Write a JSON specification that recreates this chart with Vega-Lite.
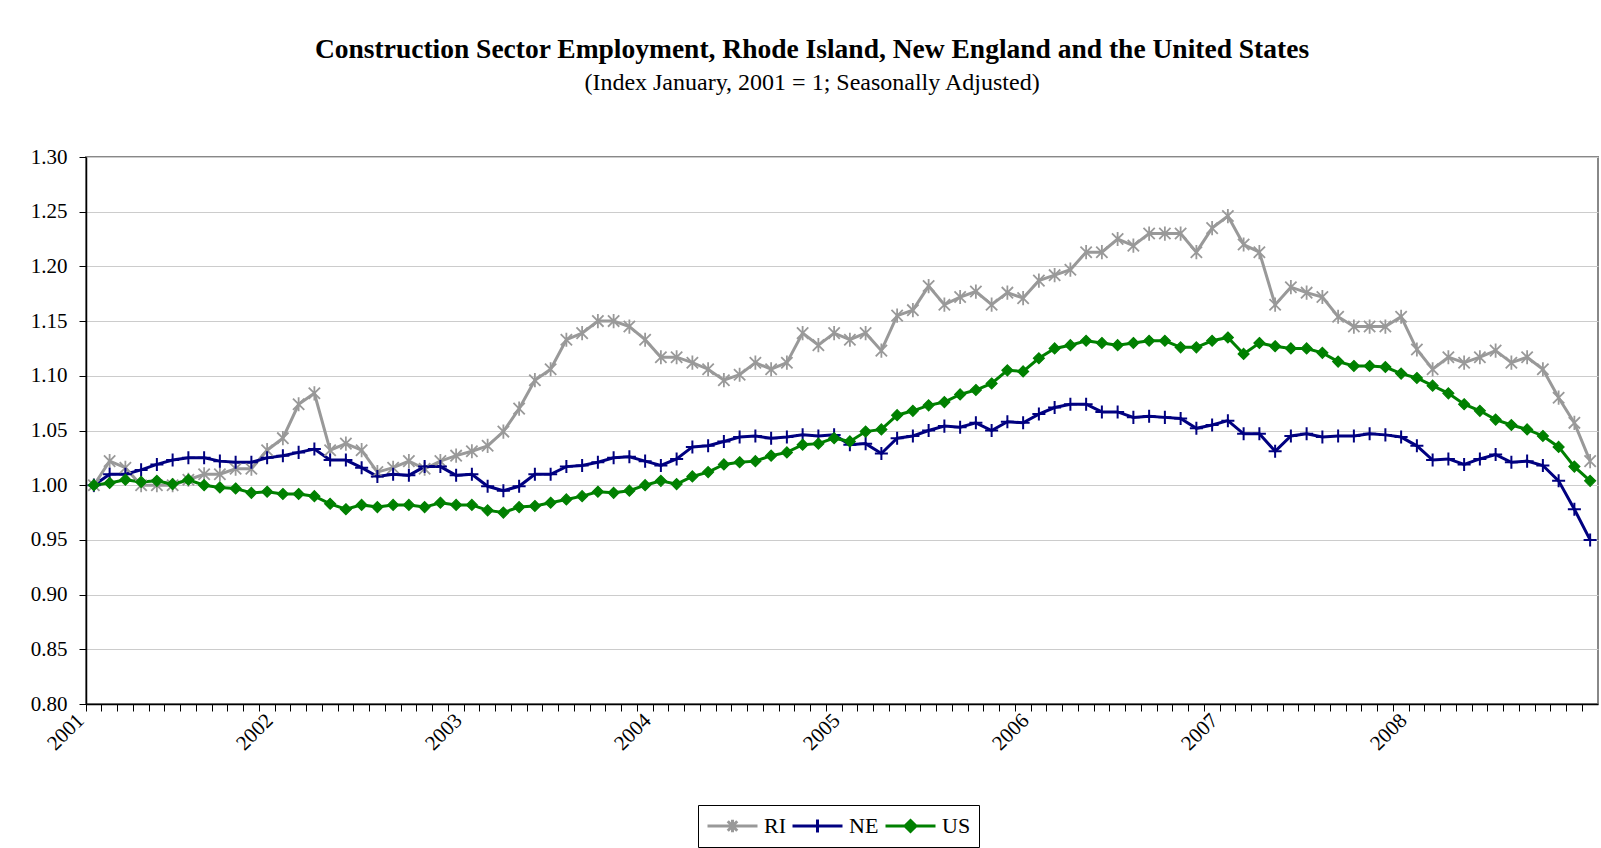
{
  "$schema": "https://vega.github.io/schema/vega-lite/v6.json",
  "width": 1512,
  "height": 547,
  "autosize": {"type": "none"},
  "padding": {"left": 86, "top": 157, "right": 3, "bottom": 144},
  "background": "white",
  "config": {
    "view": {"stroke": "#888888", "strokeWidth": 2},
    "font": "Liberation Serif"
  },
  "title": {
    "text": "Construction Sector Employment, Rhode Island, New England and the United States",
    "subtitle": "(Index January, 2001 = 1; Seasonally Adjusted)",
    "font": "Liberation Serif",
    "fontSize": 27.5,
    "fontWeight": "bold",
    "color": "#000000",
    "subtitleFont": "Liberation Serif",
    "subtitleFontSize": 24,
    "subtitleColor": "#000000",
    "subtitlePadding": 8,
    "anchor": "middle",
    "frame": "group",
    "dx": -30,
    "offset": 51
  },
  "data": {"values": [
    {"m":"2001-01","s":"RI","v":1.000},{"m":"2001-02","s":"RI","v":1.022},{"m":"2001-03","s":"RI","v":1.016},{"m":"2001-04","s":"RI","v":1.000},{"m":"2001-05","s":"RI","v":1.000},{"m":"2001-06","s":"RI","v":1.000},{"m":"2001-07","s":"RI","v":1.005},{"m":"2001-08","s":"RI","v":1.010},{"m":"2001-09","s":"RI","v":1.010},{"m":"2001-10","s":"RI","v":1.015},{"m":"2001-11","s":"RI","v":1.015},{"m":"2001-12","s":"RI","v":1.032},
    {"m":"2002-01","s":"RI","v":1.043},{"m":"2002-02","s":"RI","v":1.074},{"m":"2002-03","s":"RI","v":1.084},{"m":"2002-04","s":"RI","v":1.032},{"m":"2002-05","s":"RI","v":1.038},{"m":"2002-06","s":"RI","v":1.032},{"m":"2002-07","s":"RI","v":1.012},{"m":"2002-08","s":"RI","v":1.016},{"m":"2002-09","s":"RI","v":1.022},{"m":"2002-10","s":"RI","v":1.015},{"m":"2002-11","s":"RI","v":1.022},{"m":"2002-12","s":"RI","v":1.027},
    {"m":"2003-01","s":"RI","v":1.031},{"m":"2003-02","s":"RI","v":1.036},{"m":"2003-03","s":"RI","v":1.049},{"m":"2003-04","s":"RI","v":1.070},{"m":"2003-05","s":"RI","v":1.096},{"m":"2003-06","s":"RI","v":1.106},{"m":"2003-07","s":"RI","v":1.133},{"m":"2003-08","s":"RI","v":1.139},{"m":"2003-09","s":"RI","v":1.150},{"m":"2003-10","s":"RI","v":1.150},{"m":"2003-11","s":"RI","v":1.145},{"m":"2003-12","s":"RI","v":1.133},
    {"m":"2004-01","s":"RI","v":1.117},{"m":"2004-02","s":"RI","v":1.117},{"m":"2004-03","s":"RI","v":1.112},{"m":"2004-04","s":"RI","v":1.106},{"m":"2004-05","s":"RI","v":1.096},{"m":"2004-06","s":"RI","v":1.101},{"m":"2004-07","s":"RI","v":1.112},{"m":"2004-08","s":"RI","v":1.106},{"m":"2004-09","s":"RI","v":1.112},{"m":"2004-10","s":"RI","v":1.139},{"m":"2004-11","s":"RI","v":1.128},{"m":"2004-12","s":"RI","v":1.139},
    {"m":"2005-01","s":"RI","v":1.133},{"m":"2005-02","s":"RI","v":1.139},{"m":"2005-03","s":"RI","v":1.123},{"m":"2005-04","s":"RI","v":1.155},{"m":"2005-05","s":"RI","v":1.160},{"m":"2005-06","s":"RI","v":1.182},{"m":"2005-07","s":"RI","v":1.165},{"m":"2005-08","s":"RI","v":1.172},{"m":"2005-09","s":"RI","v":1.177},{"m":"2005-10","s":"RI","v":1.165},{"m":"2005-11","s":"RI","v":1.176},{"m":"2005-12","s":"RI","v":1.171},
    {"m":"2006-01","s":"RI","v":1.187},{"m":"2006-02","s":"RI","v":1.192},{"m":"2006-03","s":"RI","v":1.197},{"m":"2006-04","s":"RI","v":1.213},{"m":"2006-05","s":"RI","v":1.213},{"m":"2006-06","s":"RI","v":1.225},{"m":"2006-07","s":"RI","v":1.219},{"m":"2006-08","s":"RI","v":1.230},{"m":"2006-09","s":"RI","v":1.230},{"m":"2006-10","s":"RI","v":1.230},{"m":"2006-11","s":"RI","v":1.213},{"m":"2006-12","s":"RI","v":1.235},
    {"m":"2007-01","s":"RI","v":1.246},{"m":"2007-02","s":"RI","v":1.220},{"m":"2007-03","s":"RI","v":1.213},{"m":"2007-04","s":"RI","v":1.165},{"m":"2007-05","s":"RI","v":1.181},{"m":"2007-06","s":"RI","v":1.176},{"m":"2007-07","s":"RI","v":1.172},{"m":"2007-08","s":"RI","v":1.154},{"m":"2007-09","s":"RI","v":1.145},{"m":"2007-10","s":"RI","v":1.145},{"m":"2007-11","s":"RI","v":1.145},{"m":"2007-12","s":"RI","v":1.154},
    {"m":"2008-01","s":"RI","v":1.124},{"m":"2008-02","s":"RI","v":1.106},{"m":"2008-03","s":"RI","v":1.117},{"m":"2008-04","s":"RI","v":1.112},{"m":"2008-05","s":"RI","v":1.117},{"m":"2008-06","s":"RI","v":1.123},{"m":"2008-07","s":"RI","v":1.112},{"m":"2008-08","s":"RI","v":1.117},{"m":"2008-09","s":"RI","v":1.106},{"m":"2008-10","s":"RI","v":1.080},{"m":"2008-11","s":"RI","v":1.057},{"m":"2008-12","s":"RI","v":1.022},

    {"m":"2001-01","s":"NE","v":1.000},{"m":"2001-02","s":"NE","v":1.010},{"m":"2001-03","s":"NE","v":1.010},{"m":"2001-04","s":"NE","v":1.014},{"m":"2001-05","s":"NE","v":1.019},{"m":"2001-06","s":"NE","v":1.023},{"m":"2001-07","s":"NE","v":1.025},{"m":"2001-08","s":"NE","v":1.025},{"m":"2001-09","s":"NE","v":1.022},{"m":"2001-10","s":"NE","v":1.021},{"m":"2001-11","s":"NE","v":1.021},{"m":"2001-12","s":"NE","v":1.025},
    {"m":"2002-01","s":"NE","v":1.027},{"m":"2002-02","s":"NE","v":1.030},{"m":"2002-03","s":"NE","v":1.033},{"m":"2002-04","s":"NE","v":1.023},{"m":"2002-05","s":"NE","v":1.023},{"m":"2002-06","s":"NE","v":1.016},{"m":"2002-07","s":"NE","v":1.008},{"m":"2002-08","s":"NE","v":1.010},{"m":"2002-09","s":"NE","v":1.009},{"m":"2002-10","s":"NE","v":1.017},{"m":"2002-11","s":"NE","v":1.017},{"m":"2002-12","s":"NE","v":1.009},
    {"m":"2003-01","s":"NE","v":1.010},{"m":"2003-02","s":"NE","v":0.999},{"m":"2003-03","s":"NE","v":0.995},{"m":"2003-04","s":"NE","v":0.999},{"m":"2003-05","s":"NE","v":1.010},{"m":"2003-06","s":"NE","v":1.010},{"m":"2003-07","s":"NE","v":1.017},{"m":"2003-08","s":"NE","v":1.018},{"m":"2003-09","s":"NE","v":1.021},{"m":"2003-10","s":"NE","v":1.025},{"m":"2003-11","s":"NE","v":1.026},{"m":"2003-12","s":"NE","v":1.022},
    {"m":"2004-01","s":"NE","v":1.018},{"m":"2004-02","s":"NE","v":1.024},{"m":"2004-03","s":"NE","v":1.035},{"m":"2004-04","s":"NE","v":1.036},{"m":"2004-05","s":"NE","v":1.040},{"m":"2004-06","s":"NE","v":1.044},{"m":"2004-07","s":"NE","v":1.045},{"m":"2004-08","s":"NE","v":1.043},{"m":"2004-09","s":"NE","v":1.044},{"m":"2004-10","s":"NE","v":1.046},{"m":"2004-11","s":"NE","v":1.045},{"m":"2004-12","s":"NE","v":1.046},
    {"m":"2005-01","s":"NE","v":1.037},{"m":"2005-02","s":"NE","v":1.038},{"m":"2005-03","s":"NE","v":1.029},{"m":"2005-04","s":"NE","v":1.043},{"m":"2005-05","s":"NE","v":1.045},{"m":"2005-06","s":"NE","v":1.050},{"m":"2005-07","s":"NE","v":1.054},{"m":"2005-08","s":"NE","v":1.053},{"m":"2005-09","s":"NE","v":1.057},{"m":"2005-10","s":"NE","v":1.050},{"m":"2005-11","s":"NE","v":1.058},{"m":"2005-12","s":"NE","v":1.057},
    {"m":"2006-01","s":"NE","v":1.065},{"m":"2006-02","s":"NE","v":1.071},{"m":"2006-03","s":"NE","v":1.074},{"m":"2006-04","s":"NE","v":1.074},{"m":"2006-05","s":"NE","v":1.067},{"m":"2006-06","s":"NE","v":1.067},{"m":"2006-07","s":"NE","v":1.062},{"m":"2006-08","s":"NE","v":1.063},{"m":"2006-09","s":"NE","v":1.062},{"m":"2006-10","s":"NE","v":1.061},{"m":"2006-11","s":"NE","v":1.052},{"m":"2006-12","s":"NE","v":1.055},
    {"m":"2007-01","s":"NE","v":1.059},{"m":"2007-02","s":"NE","v":1.047},{"m":"2007-03","s":"NE","v":1.047},{"m":"2007-04","s":"NE","v":1.031},{"m":"2007-05","s":"NE","v":1.045},{"m":"2007-06","s":"NE","v":1.047},{"m":"2007-07","s":"NE","v":1.044},{"m":"2007-08","s":"NE","v":1.045},{"m":"2007-09","s":"NE","v":1.045},{"m":"2007-10","s":"NE","v":1.047},{"m":"2007-11","s":"NE","v":1.046},{"m":"2007-12","s":"NE","v":1.044},
    {"m":"2008-01","s":"NE","v":1.036},{"m":"2008-02","s":"NE","v":1.023},{"m":"2008-03","s":"NE","v":1.024},{"m":"2008-04","s":"NE","v":1.019},{"m":"2008-05","s":"NE","v":1.024},{"m":"2008-06","s":"NE","v":1.028},{"m":"2008-07","s":"NE","v":1.021},{"m":"2008-08","s":"NE","v":1.022},{"m":"2008-09","s":"NE","v":1.018},{"m":"2008-10","s":"NE","v":1.004},{"m":"2008-11","s":"NE","v":0.978},{"m":"2008-12","s":"NE","v":0.950},

    {"m":"2001-01","s":"US","v":1.000},{"m":"2001-02","s":"US","v":1.002},{"m":"2001-03","s":"US","v":1.005},{"m":"2001-04","s":"US","v":1.003},{"m":"2001-05","s":"US","v":1.004},{"m":"2001-06","s":"US","v":1.001},{"m":"2001-07","s":"US","v":1.005},{"m":"2001-08","s":"US","v":1.000},{"m":"2001-09","s":"US","v":0.998},{"m":"2001-10","s":"US","v":0.997},{"m":"2001-11","s":"US","v":0.993},{"m":"2001-12","s":"US","v":0.994},
    {"m":"2002-01","s":"US","v":0.992},{"m":"2002-02","s":"US","v":0.992},{"m":"2002-03","s":"US","v":0.990},{"m":"2002-04","s":"US","v":0.983},{"m":"2002-05","s":"US","v":0.978},{"m":"2002-06","s":"US","v":0.982},{"m":"2002-07","s":"US","v":0.980},{"m":"2002-08","s":"US","v":0.982},{"m":"2002-09","s":"US","v":0.982},{"m":"2002-10","s":"US","v":0.980},{"m":"2002-11","s":"US","v":0.984},{"m":"2002-12","s":"US","v":0.982},
    {"m":"2003-01","s":"US","v":0.982},{"m":"2003-02","s":"US","v":0.977},{"m":"2003-03","s":"US","v":0.975},{"m":"2003-04","s":"US","v":0.980},{"m":"2003-05","s":"US","v":0.981},{"m":"2003-06","s":"US","v":0.984},{"m":"2003-07","s":"US","v":0.987},{"m":"2003-08","s":"US","v":0.990},{"m":"2003-09","s":"US","v":0.994},{"m":"2003-10","s":"US","v":0.993},{"m":"2003-11","s":"US","v":0.995},{"m":"2003-12","s":"US","v":1.000},
    {"m":"2004-01","s":"US","v":1.004},{"m":"2004-02","s":"US","v":1.001},{"m":"2004-03","s":"US","v":1.008},{"m":"2004-04","s":"US","v":1.012},{"m":"2004-05","s":"US","v":1.019},{"m":"2004-06","s":"US","v":1.021},{"m":"2004-07","s":"US","v":1.022},{"m":"2004-08","s":"US","v":1.027},{"m":"2004-09","s":"US","v":1.030},{"m":"2004-10","s":"US","v":1.037},{"m":"2004-11","s":"US","v":1.038},{"m":"2004-12","s":"US","v":1.043},
    {"m":"2005-01","s":"US","v":1.040},{"m":"2005-02","s":"US","v":1.049},{"m":"2005-03","s":"US","v":1.051},{"m":"2005-04","s":"US","v":1.064},{"m":"2005-05","s":"US","v":1.068},{"m":"2005-06","s":"US","v":1.073},{"m":"2005-07","s":"US","v":1.076},{"m":"2005-08","s":"US","v":1.083},{"m":"2005-09","s":"US","v":1.087},{"m":"2005-10","s":"US","v":1.093},{"m":"2005-11","s":"US","v":1.105},{"m":"2005-12","s":"US","v":1.104},
    {"m":"2006-01","s":"US","v":1.116},{"m":"2006-02","s":"US","v":1.125},{"m":"2006-03","s":"US","v":1.128},{"m":"2006-04","s":"US","v":1.132},{"m":"2006-05","s":"US","v":1.130},{"m":"2006-06","s":"US","v":1.128},{"m":"2006-07","s":"US","v":1.130},{"m":"2006-08","s":"US","v":1.132},{"m":"2006-09","s":"US","v":1.132},{"m":"2006-10","s":"US","v":1.126},{"m":"2006-11","s":"US","v":1.126},{"m":"2006-12","s":"US","v":1.132},
    {"m":"2007-01","s":"US","v":1.135},{"m":"2007-02","s":"US","v":1.120},{"m":"2007-03","s":"US","v":1.130},{"m":"2007-04","s":"US","v":1.127},{"m":"2007-05","s":"US","v":1.125},{"m":"2007-06","s":"US","v":1.125},{"m":"2007-07","s":"US","v":1.121},{"m":"2007-08","s":"US","v":1.113},{"m":"2007-09","s":"US","v":1.109},{"m":"2007-10","s":"US","v":1.109},{"m":"2007-11","s":"US","v":1.108},{"m":"2007-12","s":"US","v":1.102},
    {"m":"2008-01","s":"US","v":1.098},{"m":"2008-02","s":"US","v":1.091},{"m":"2008-03","s":"US","v":1.084},{"m":"2008-04","s":"US","v":1.074},{"m":"2008-05","s":"US","v":1.068},{"m":"2008-06","s":"US","v":1.060},{"m":"2008-07","s":"US","v":1.055},{"m":"2008-08","s":"US","v":1.051},{"m":"2008-09","s":"US","v":1.045},{"m":"2008-10","s":"US","v":1.035},{"m":"2008-11","s":"US","v":1.017},{"m":"2008-12","s":"US","v":1.004}
  ]},
  "encoding": {
    "x": {
      "field": "m", "type": "ordinal", "sort": "ascending",
      "scale": {"type": "band", "paddingInner": 0, "paddingOuter": 0},
      "axis": {
        "title": null, "bandPosition": 0, "grid": false,
        "labelExpr": "slice(datum.value, 5) == '01' ? slice(datum.value, 0, 4) : ''",
        "labelAngle": -45, "labelAlign": "right", "labelBaseline": "middle",
        "labelFont": "Liberation Serif", "labelFontSize": 21, "labelColor": "#000000",
        "labelOverlap": false, "labelPadding": 6, "labelOffset": -13, "labelBound": false,
        "tickSize": 7, "tickColor": "#000000", "tickWidth": 1,
        "domainColor": "#000000", "domainWidth": 1.5
      }
    },
    "y": {
      "field": "v", "type": "quantitative",
      "scale": {"domain": [0.8, 1.3], "nice": false, "zero": false},
      "axis": {
        "title": null, "values": [0.8, 0.85, 0.9, 0.95, 1.0, 1.05, 1.1, 1.15, 1.2, 1.25, 1.3],
        "format": ".2f", "labelFont": "Liberation Serif", "labelFontSize": 21, "labelColor": "#000000",
        "labelPadding": 12, "tickSize": 7, "tickColor": "#000000",
        "domainColor": "#000000", "domainWidth": 1.5,
        "grid": true, "gridColor": "#cccccc", "gridWidth": 1.2
      }
    }
  },
  "layer": [
    {
      "mark": {"type": "line", "strokeWidth": 3},
      "encoding": {
        "color": {"field": "s", "type": "nominal",
          "scale": {"domain": ["RI", "NE", "US"], "range": ["#999999", "#000080", "#008000"]},
          "legend": {
            "title": null, "orient": "none", "legendX": 612, "legendY": 648,
            "direction": "horizontal", "columns": 3,
            "strokeColor": "#000000", "padding": 8, "fillColor": "white",
            "symbolSize": 2500, "clipHeight": 26, "columnPadding": 5, "labelOffset": 5,
            "labelFont": "Liberation Serif", "labelFontSize": 22, "labelColor": "#000000",
            "symbolStrokeWidth": 3,
            "encode": {
              "symbols": {
                "update": {
                  "shape": {"signal": "datum.value == 'RI' ? 'M-1,0L1,0M-0.19,-0.19L0.19,0.19M-0.19,0.19L0.19,-0.19M0,-0.25L0,0.25' : datum.value == 'NE' ? 'M-1,0L1,0M0,-0.26L0,0.26' : 'M-1,0L1,0M0,-0.22L0.22,0L0,0.22L-0.22,0Z'"},
                  "fill": {"signal": "datum.value == 'RI' ? '#999999' : datum.value == 'NE' ? '#000080' : '#008000'"},
                  "stroke": {"signal": "datum.value == 'RI' ? '#999999' : datum.value == 'NE' ? '#000080' : '#008000'"},
                  "strokeWidth": {"value": 3},
                  "opacity": {"value": 1}
                }
              }
            }
          }
        }
      }
    },
    {
      "transform": [{"filter": {"field": "s", "equal": "RI"}}],
      "mark": {"type": "point", "filled": false, "opacity": 1, "size": 200, "strokeWidth": 1.8,
        "shape": "M-0.8,-0.8L0.8,0.8M-0.8,0.8L0.8,-0.8M0,-1L0,1", "stroke": "#999999"}
    },
    {
      "transform": [{"filter": {"field": "s", "equal": "NE"}}],
      "mark": {"type": "point", "filled": false, "opacity": 1, "size": 170, "strokeWidth": 2,
        "shape": "M-1,0L1,0M0,-1L0,1", "stroke": "#000080"}
    },
    {
      "transform": [{"filter": {"field": "s", "equal": "US"}}],
      "mark": {"type": "point", "filled": true, "opacity": 1, "size": 120, "strokeWidth": 1.2,
        "shape": "M0,-1L1,0L0,1L-1,0Z", "fill": "#008000", "stroke": "#008000"}
    }
  ]
}
